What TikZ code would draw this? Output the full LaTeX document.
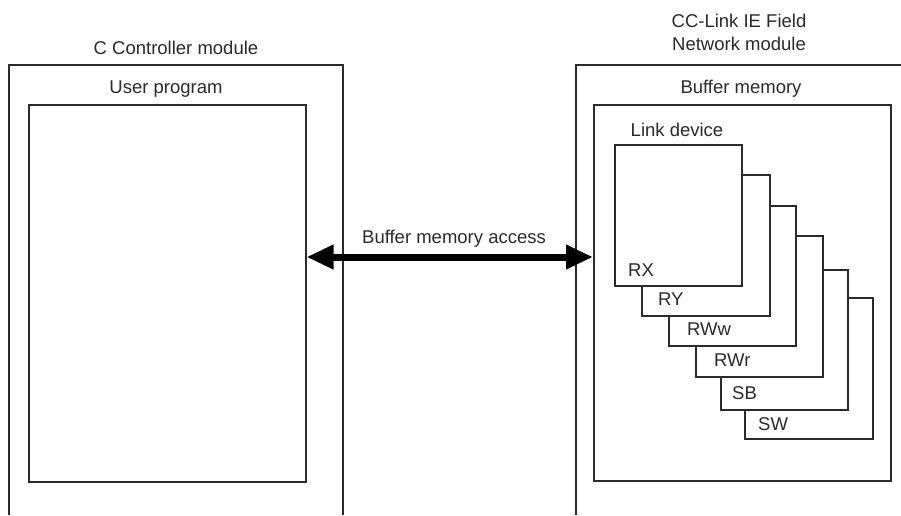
\documentclass[tikz,border=0pt]{standalone}
\usepackage{fontspec}
\setmainfont{Liberation Sans}
\usetikzlibrary{arrows.meta}
\definecolor{ink}{HTML}{2B2B2B}
\begin{document}
\begin{tikzpicture}[x=1pt,y=-1pt,
  txt/.style={font=\fontsize{18.5}{22}\selectfont, text=ink, inner sep=0pt},
  box/.style={draw=ink, line width=1.5pt, fill=white, inner sep=0pt, anchor=north west},
  frame/.style={draw=ink, line width=1.5pt}]
\useasboundingbox (0,0) rectangle (901,515);
% outer modules (open at the bottom / right)
\draw[frame] (9,515) -- (9,65) -- (343,65) -- (343,515);
\draw[frame] (576,515) -- (576,65) -- (905,65);
\node[txt, anchor=base] (ctitle) at (176,54) {C Controller module};
\node[txt, anchor=base] (ntitle1) at (739,27) {CC-Link IE Field};
\node[txt, anchor=base] (ntitle2) at (739,50) {Network module};
\node[txt, anchor=base] (uplabel) at (166,93) {User program};
\node[txt, anchor=base] (bmlabel) at (741,93) {Buffer memory};
% inner boxes
\node[box, minimum width=277pt, minimum height=377pt] (prog) at (28,104) {};
\node[box, minimum width=297pt, minimum height=376pt] (buf) at (593,104) {};
\node[txt, anchor=base] (ldlabel) at (677,136) {Link device};
% stacked link devices (back to front)
\node[box, minimum width=128pt, minimum height=141pt] (sw) at (744,297) {};
\node[box, minimum width=127pt, minimum height=140pt] (sb) at (720,269) {};
\node[box, minimum width=127pt, minimum height=141pt] (rwr) at (695,235) {};
\node[box, minimum width=127pt, minimum height=140pt] (rww) at (668,205) {};
\node[box, minimum width=128pt, minimum height=141pt] (ry) at (641,174) {};
\node[box, minimum width=127pt, minimum height=141pt] (rx) at (614,144) {};
\node[txt, anchor=base west] (swl) at (758,430) {SW};
\node[txt, anchor=base west] (sbl) at (732,399) {SB};
\node[txt, anchor=base west] (rwrl) at (714,366) {RWr};
\node[txt, anchor=base west] (rwwl) at (687,335) {RWw};
\node[txt, anchor=base west] (ryl) at (658,305) {RY};
\node[txt, anchor=base west] (rxl) at (628,276) {RX};
% access arrow
\coordinate (a1) at (prog.east |- 0,257);
\coordinate (a2) at (buf.west |- 0,257);
\draw[line width=7pt, black, {Triangle[length=27pt,width=23pt]}-{Triangle[length=27pt,width=23pt]}] (a1) -- (a2);
\node[txt, anchor=base] (alabel) at (454,243) {Buffer memory access};
\end{tikzpicture}
\end{document}
